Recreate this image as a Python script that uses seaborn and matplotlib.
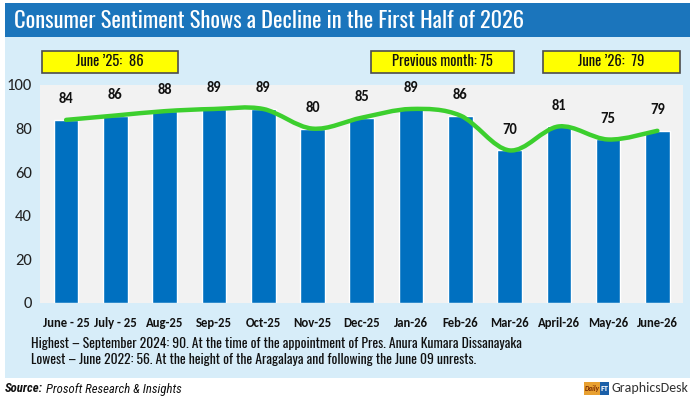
import numpy as np
import pandas as pd
import seaborn as sns
import matplotlib.pyplot as plt
from matplotlib.path import Path
from matplotlib.patches import PathPatch, Rectangle

months = ['June - 25', 'July - 25', 'Aug-25', 'Sep-25', 'Oct-25', 'Nov-25', 'Dec-25',
          'Jan-26', 'Feb-26', 'Mar-26', 'April-26', 'May-26', 'June-26']
sentiment = [84, 86, 88, 89, 89, 80, 85, 89, 86, 70, 81, 75, 79]
y_ticks = [0, 20, 40, 60, 80, 100]
title = 'Consumer Sentiment Shows a Decline in the First Half of 2026'
callouts = ["June \u201925:  86", 'Previous month: 75', "June \u201926:  79"]
notes = ['Highest \u2013 September 2024: 90. At the time of the appointment of Pres. Anura Kumara Dissanayaka',
         'Lowest \u2013 June 2022: 56. At the height of the Aragalaya and following the June 09 unrests.']

sns.set_style('white')
plt.rcParams['font.family'] = ['Carlito', 'DejaVu Sans']
cond = ['Oswald', 'DejaVu Sans']
rcond = ['Roboto Condensed', 'DejaVu Sans']

df = pd.DataFrame({'month': months, 'value': sentiment})

fig = plt.figure(figsize=(7, 4), dpi=100)
fig.patch.set_facecolor('white')
renderer = fig.canvas.get_renderer()


def fit(t, px):
    # shrink/grow a text so it spans px pixels
    w = t.get_window_extent(renderer).width
    t.set_fontsize(t.get_fontsize() * px / w)


# title bar and light blue panel
fig.add_artist(Rectangle((5/700, 1 - 37/400), 685/700, 34/400, transform=fig.transFigure,
                         fc='#1b75bc', ec='none', zorder=0))
fig.add_artist(Rectangle((5/700, 1 - 378/400), 685/700, 341/400, transform=fig.transFigure,
                         fc='#d7edf9', ec='none', zorder=0))
t = fig.text(14/700, 1 - 21/400, title, color='white', fontsize=16, fontweight=500,
             family=cond, va='center', ha='left')
fit(t, 512)

ax = fig.add_axes([40/700, 1 - 303/400, 643/700, 218/400])
ax.set_facecolor('#f2f2f2')
sns.barplot(data=df, x='month', y='value', color='#0070c0', saturation=1, width=0.5, ax=ax, zorder=2)

# smoothed line through the bar tops (Catmull-Rom style bezier)
xs = np.arange(len(sentiment), dtype=float)
ys = np.array(sentiment, dtype=float)
verts = [(xs[0], ys[0])]
codes = [Path.MOVETO]
for i in range(len(xs) - 1):
    p0 = np.array([xs[max(i - 1, 0)], ys[max(i - 1, 0)]])
    p1 = np.array([xs[i], ys[i]])
    p2 = np.array([xs[i + 1], ys[i + 1]])
    p3 = np.array([xs[min(i + 2, len(xs) - 1)], ys[min(i + 2, len(xs) - 1)]])
    c1 = p1 + (p2 - p0) / 6
    c2 = p2 - (p3 - p1) / 6
    verts += [tuple(c1), tuple(c2), tuple(p2)]
    codes += [Path.CURVE4] * 3
ax.add_patch(PathPatch(Path(verts, codes), fc='none', ec='#3ccf2e', lw=3.2,
                       capstyle='round', joinstyle='round', zorder=3))

for i, v in enumerate(sentiment):
    ax.annotate(str(v), (i, v), xytext=(0, 10), textcoords='offset points', ha='center',
                va='bottom', fontsize=10.5, fontweight='bold', color='#111111', zorder=4)

ax.set_xlim(-0.53, 12.52)
ax.set_ylim(0, 100)
ax.set_yticks(y_ticks)
ax.tick_params(axis='y', labelsize=12, length=0, pad=6, labelcolor='#222222')
ax.tick_params(axis='x', labelsize=9.2, length=0, pad=10, labelcolor='#111111')
for lab in ax.get_xticklabels():
    lab.set_fontweight('bold')
ax.set_xlabel('')
ax.set_ylabel('')
sns.despine(ax=ax, left=True, bottom=True)

# yellow callouts
boxes = [(42, 178), (371, 514), (543, 680)]
for (x0, x1), txt in zip(boxes, callouts):
    fig.add_artist(Rectangle((x0/700, 1 - 73/400), (x1 - x0)/700, 22/400, transform=fig.transFigure,
                             fc='#ffff00', ec='#4d4d4d', lw=1.2, zorder=1))
    fig.text((x0 + x1)/2/700, 1 - 62/400, txt, ha='center', va='center', fontsize=10.5,
             family=cond, fontweight=300, color='#111111')

n1 = fig.text(31/700, 1 - 343/400, notes[0], fontsize=10, family=cond, fontweight=300,
              va='center', color='#111111')
fit(n1, 489)
n2 = fig.text(31/700, 1 - 360/400, notes[1], fontsize=n1.get_fontsize(), family=cond,
              fontweight=300, va='center', color='#111111')

s = fig.text(5/700, 1 - 389/400, 'Source:', fontsize=9.2, family=rcond, fontweight='bold',
             style='italic', va='center', color='#111111')
sw = s.get_window_extent(renderer).width
fig.text((5 + sw + 3)/700, 1 - 389/400, 'Prosoft Research & Insights', fontsize=9.2, family=rcond,
         style='italic', va='center', color='#111111')

# GraphicsDesk mark
fig.add_artist(Rectangle((584/700, 1 - 395/400), 16/700, 13/400, transform=fig.transFigure,
                         fc='#e8a030', ec='none'))
fig.add_artist(Rectangle((600/700, 1 - 395/400), 9/700, 13/400, transform=fig.transFigure,
                         fc='#1b5fa8', ec='none'))
fig.text(592/700, 1 - 388.5/400, 'Daily', fontsize=5, style='italic', fontweight='bold',
         color='#7a2a00', ha='center', va='center')
fig.text(604.5/700, 1 - 388.5/400, 'FT', fontsize=6, fontweight='bold', color='white',
         ha='center', va='center')
fig.text(611/700, 1 - 388.5/400, 'GraphicsDesk', fontsize=10, color='#333333', va='center')

fig.savefig('out.png', dpi=100)
